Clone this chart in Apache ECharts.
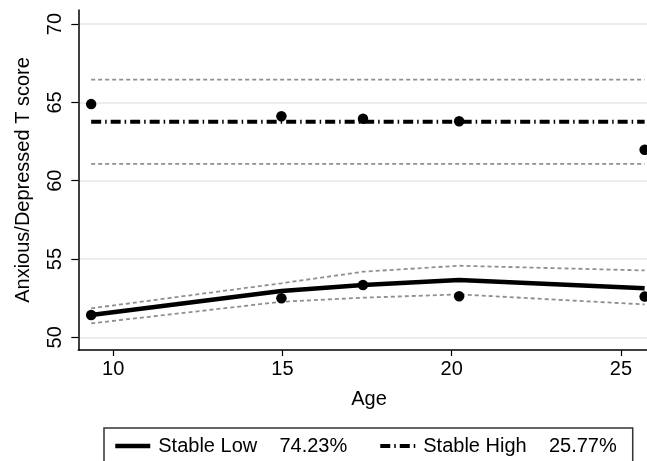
<!DOCTYPE html>
<html>
<head>
<meta charset="utf-8">
<script src="https://cdn.jsdelivr.net/npm/echarts@6/dist/echarts.min.js"></script>
<style>html,body{margin:0;padding:0;background:#fff}#c{width:647px;height:461px}</style>
</head>
<body>
<div id="c"></div>
<script>
const ages = [9.35, 14.97, 17.38, 20.22, 25.7];
const lowMean = [51.42, 52.96, 53.34, 53.66, 53.13];
const lowUpper = [51.85, 53.45, 54.19, 54.57, 54.27];
const lowLower = [50.89, 52.27, 52.53, 52.74, 52.1];
const lowObs = [51.42, 52.49, 53.34, 52.62, 52.6];
const highMean = [63.76, 63.76, 63.76, 63.76, 63.76];
const highUpper = [66.46, 66.46, 66.46, 66.46, 66.46];
const highLower = [61.07, 61.07, 61.07, 61.07, 61.07];
const highObs = [64.89, 64.12, 63.96, 63.8, 61.98];
const xTicks = [10, 15, 20, 25];
const yTicks = [50, 55, 60, 65, 70];
const groupNames = ['Stable Low', 'Stable High'];
const groupPct = ['74.23%', '25.77%'];

const pair = (ys) => ages.map((a, i) => [a, ys[i]]);
const FONT = '"Liberation Sans", Arial, sans-serif';
const ciStyle = {color: '#8f8f8f', width: 1.8, type: [4, 3]};
const lowLine = {color: '#000', width: 4.5, type: 'solid'};
const highLine = {color: '#000', width: 4, type: [10, 4, 1.5, 4]};

const chart = echarts.init(document.getElementById('c'), null, {renderer: 'canvas'});
chart.setOption({
  animation: false,
  backgroundColor: '#fff',
  textStyle: {fontFamily: FONT},
  grid: {left: 78.3, right: 0, top: 10, bottom: 111, containLabel: false},
  xAxis: {
    type: 'value', min: 8.97, max: 25.77,
    axisLine: {lineStyle: {color: '#000', width: 1.5}},
    axisTick: {show: true, length: 6, lineStyle: {color: '#000', width: 1.2}, customValues: xTicks},
    axisLabel: {customValues: xTicks, color: '#000', fontSize: 20, fontFamily: FONT, margin: 9},
    splitLine: {show: false}
  },
  yAxis: {
    type: 'value', min: 49.19, max: 70.9,
    axisLine: {show: true, lineStyle: {color: '#000', width: 1.5}},
    axisTick: {show: true, length: 7, lineStyle: {color: '#000', width: 1.2}, customValues: yTicks},
    axisLabel: {customValues: yTicks, color: '#000', fontSize: 20, fontFamily: FONT, rotate: 90, margin: 13},
    splitLine: {show: true, lineStyle: {color: '#e6e6e6', width: 1.5}},
    name: 'Anxious/Depressed T score', nameLocation: 'middle', nameRotate: 90, nameGap: 45,
    nameTextStyle: {color: '#000', fontSize: 20, fontFamily: FONT}
  },
  title: {text: 'Age', left: 369, top: 389, textAlign: 'center', padding: 0,
    textStyle: {fontSize: 20, fontWeight: 'normal', color: '#000', fontFamily: FONT}},
  legend: {
    data: [
      {name: groupNames[0], lineStyle: lowLine},
      {name: groupNames[1], lineStyle: highLine}
    ],
    left: 104, top: 428,
    orient: 'horizontal', itemWidth: 35, itemHeight: 14, itemGap: 31,
    borderColor: '#333', borderWidth: 1.5, borderRadius: 0,
    padding: [8, 16, 30, 9],
    itemStyle: {opacity: 0},
    textStyle: {fontSize: 20, color: '#000', fontFamily: FONT, padding: [0, 0, 0, 3]},
    formatter: (n) => n + '    ' + groupPct[groupNames.indexOf(n)]
  },
  series: [
    {name: 'lowU', type: 'line', data: pair(lowUpper), symbol: 'none', lineStyle: ciStyle, z: 2},
    {name: 'lowL', type: 'line', data: pair(lowLower), symbol: 'none', lineStyle: ciStyle, z: 2},
    {name: 'highU', type: 'line', data: pair(highUpper), symbol: 'none', lineStyle: ciStyle, z: 2},
    {name: 'highL', type: 'line', data: pair(highLower), symbol: 'none', lineStyle: ciStyle, z: 2},
    {name: groupNames[0], type: 'line', data: pair(lowMean), symbol: 'none', color: '#000',
      lineStyle: lowLine, z: 3},
    {name: groupNames[1], type: 'line', data: pair(highMean), symbol: 'none', color: '#000',
      lineStyle: highLine, z: 3},
    {name: 'lowObs', type: 'scatter', data: pair(lowObs), symbol: 'circle', symbolSize: 10.5,
      itemStyle: {color: '#000', opacity: 1}, z: 4},
    {name: 'highObs', type: 'scatter', data: pair(highObs), symbol: 'circle', symbolSize: 10.5,
      itemStyle: {color: '#000', opacity: 1}, z: 4}
  ]
});
</script>
</body>
</html>
